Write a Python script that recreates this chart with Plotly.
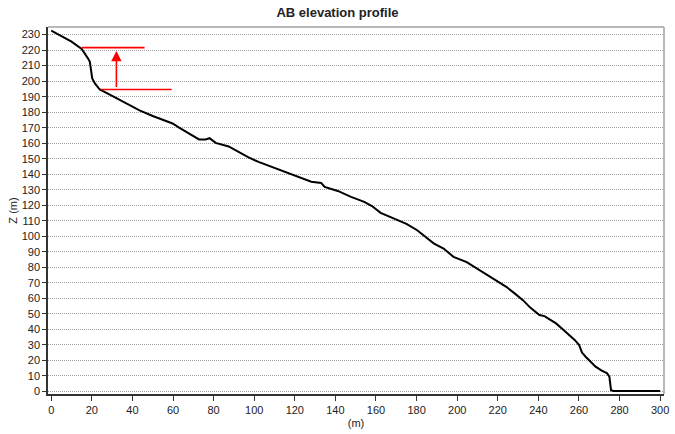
import plotly.graph_objects as go

# Profile distance (m) and elevation Z (m)
dist = [0, 5, 10, 15, 16.6, 18.2, 19, 20.2, 21.5, 23.9, 30, 36, 43.5, 50, 55, 59.8,
        63, 66.3, 67.9, 72.8, 76, 78, 81, 87.4, 92.3, 97, 102.1, 106, 110.3, 116.8,
        121.6, 128.1, 133, 134.7, 141.2, 147.7, 154.2, 158, 162.3, 166, 170.5, 175,
        180.3, 184, 188.4, 193.3, 198.2, 204.7, 209.6, 216.1, 224.2, 228, 232.4,
        236, 240.5, 243, 248.7, 252, 255.2, 258, 260.1, 261.5, 263.3, 266, 268.2,
        271, 273.9, 275, 275.8, 277, 285, 300]
elev = [232.5, 229, 225.5, 220.8, 217.8, 214.5, 212.4, 201.7, 198.5, 194.6, 190.5,
        186.5, 181.2, 177.5, 175, 172.7, 170, 167.5, 166.2, 162.4, 162.4, 163.2,
        160.2, 157.9, 154.4, 151, 147.9, 146, 143.7, 140.5, 137.9, 135.1, 134.4,
        131.8, 129.2, 125.4, 122.2, 119.5, 115.1, 113, 110.8, 108, 103.9, 100,
        95.4, 92.1, 86.7, 83.3, 79.3, 74.3, 67.4, 63.5, 58.8, 54, 49.2, 48.5, 43.8,
        40, 36.3, 33, 29.8, 25, 22.3, 19, 15.9, 13.5, 11.6, 9.4, 0.8, 0.3, 0.3, 0.3]

# Red annotation: two horizontal reference lines and an upward arrow
upper_line_x = [15, 46]
upper_line_z = [221.6, 221.6]
lower_line_x = [24.4, 59.3]
lower_line_z = [194.6, 194.6]
arrow_x = 32.1
arrow_z_from = 195.2
arrow_z_to = 219.5

x_ticks = list(range(0, 301, 20))
y_ticks = list(range(0, 231, 10))

font = "Liberation Sans, Arial, sans-serif"

fig = go.Figure()
fig.add_trace(go.Scatter(x=dist, y=elev, mode="lines",
                         line=dict(color="black", width=2), hoverinfo="skip",
                         showlegend=False))
fig.add_trace(go.Scatter(x=upper_line_x, y=upper_line_z, mode="lines",
                         line=dict(color="#ff0000", width=1.6), showlegend=False))
fig.add_trace(go.Scatter(x=lower_line_x, y=lower_line_z, mode="lines",
                         line=dict(color="#ff0000", width=1.6), showlegend=False))
fig.add_annotation(x=arrow_x, y=arrow_z_to, ax=arrow_x, ay=arrow_z_from,
                   xref="x", yref="y", axref="x", ayref="y", text="",
                   showarrow=True, arrowhead=2, arrowsize=1.3, arrowwidth=1.6,
                   arrowcolor="#ff0000")

# gray top/right frame
fig.add_shape(type="line", xref="paper", yref="paper", x0=0, x1=1, y0=1, y1=1,
              line=dict(color="#a0a0a0", width=1.5))
fig.add_shape(type="line", xref="paper", yref="paper", x0=1, x1=1, y0=0, y1=1,
              line=dict(color="#a0a0a0", width=1.5))

fig.update_layout(
    width=675, height=434,
    margin=dict(l=48, r=6, t=27, b=40),
    paper_bgcolor="white", plot_bgcolor="white",
    font=dict(family=font, size=11, color="#222222"),
    title=dict(text="<b>AB elevation profile</b>", x=0.5, xanchor="center",
               y=0.972, yanchor="middle", font=dict(size=13, color="#222222")),
    xaxis=dict(range=[-1.6, 301.9], tickvals=x_ticks, showgrid=False,
               zeroline=False, showline=True, linecolor="#333333", linewidth=1.5,
               ticks="outside", ticklen=5, tickcolor="#333333",
               title=dict(text="(m)", standoff=4, font=dict(size=11))),
    yaxis=dict(range=[-1.7, 234.9], tickvals=y_ticks, showgrid=True,
               gridcolor="#a0a0a0", griddash="1px,1px", gridwidth=1,
               zeroline=False, showline=True, linecolor="#333333", linewidth=1.5,
               ticks="outside", ticklen=4, tickcolor="#333333",
               title=dict(text="Z (m)", standoff=2, font=dict(size=11))),
)

fig.write_html("out.html")
